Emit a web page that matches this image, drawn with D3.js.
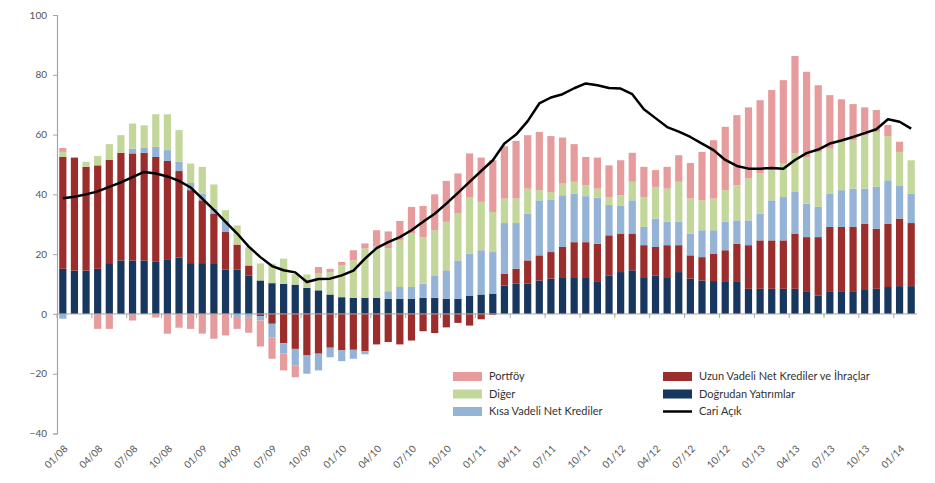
<!DOCTYPE html>
<html>
<head>
<meta charset="utf-8">
<script src="https://cdn.jsdelivr.net/npm/d3@7"></script>
<style>
  html, body { margin: 0; padding: 0; background: #fff; }
  svg { display: block; }
  text { font-family: Lato, "Open Sans", "DejaVu Sans", sans-serif; }
</style>
</head>
<body>
<svg id="chart" width="935" height="483"></svg>
<script>
// ---- DATA ----
const categories = [
  "01/08","02/08","03/08","04/08","05/08","06/08","07/08","08/08","09/08","10/08","11/08","12/08",
  "01/09","02/09","03/09","04/09","05/09","06/09","07/09","08/09","09/09","10/09","11/09","12/09",
  "01/10","02/10","03/10","04/10","05/10","06/10","07/10","08/10","09/10","10/10","11/10","12/10",
  "01/11","02/11","03/11","04/11","05/11","06/11","07/11","08/11","09/11","10/11","11/11","12/11",
  "01/12","02/12","03/12","04/12","05/12","06/12","07/12","08/12","09/12","10/12","11/12","12/12",
  "01/13","02/13","03/13","04/13","05/13","06/13","07/13","08/13","09/13","10/13","11/13","12/13",
  "01/14","02/14"
];
const tickLabels = ["01/08","04/08","07/08","10/08","01/09","04/09","07/09","10/09","01/10","04/10",
  "07/10","10/10","01/11","04/11","07/11","10/11","01/12","04/12","07/12","10/12","01/13","04/13",
  "07/13","10/13","01/14"];
const yTicks = [-40, -20, 0, 20, 40, 60, 80, 100];

// Doğrudan Yatırımlar
const dogrudan = [15.1,14.5,14.5,15.1,17.0,17.9,17.9,17.9,17.6,18.3,18.8,17.0,
  17.0,16.7,14.8,14.8,12.9,11.2,10.3,10.1,9.8,8.7,7.9,6.5,
  5.6,5.4,5.4,5.4,5.1,5.1,5.1,5.4,5.4,5.1,5.1,6.0,
  6.5,6.8,9.5,10.1,10.1,11.2,11.8,12.3,12.3,12.3,10.7,12.9,
  14.0,14.6,12.3,12.9,12.3,14.0,11.8,11.2,11.0,10.7,10.7,8.4,
  8.4,8.4,8.4,8.4,7.6,6.2,7.6,7.6,7.6,8.0,8.4,9.0,
  9.3,9.3];
// Uzun Vadeli Net Krediler ve İhraçlar
const uzunVadeli = [37.4,37.8,34.7,34.6,34.6,36.0,35.8,36.0,34.9,32.9,29.0,24.4,
  21.0,16.9,12.6,8.4,3.3,-0.7,-3.3,-9.8,-11.7,-13.9,-13.3,-11.3,
  -12.2,-12.0,-12.5,-10.2,-9.4,-10.2,-8.9,-5.8,-6.4,-4.5,-3.0,-3.9,
  -1.8,-0.3,4.0,5.0,7.8,8.4,8.9,10.1,11.7,11.7,12.8,13.4,
  12.9,12.3,10.7,9.5,10.7,9.0,7.8,7.8,9.2,10.6,12.8,14.6,
  16.2,16.2,16.2,18.5,18.1,19.5,21.5,21.5,21.5,22.2,20.1,21.2,
  22.6,21.1];
// Kısa Vadeli Net Krediler
const kisaVadeli = [-1.6,0,0,0,0,0,1.6,1.6,3.4,3.6,3.1,2.4,
  2.3,1.6,3.9,-1.0,-1.3,-1.5,-4.5,-3.5,-5.6,-6.1,-5.6,-3.2,
  -3.6,-3.0,-1.0,0,2.5,3.9,3.9,4.7,7.5,9.5,12.8,14.2,
  14.8,13.9,16.9,15.3,15.7,18.4,17.6,17.3,16.3,15.4,15.4,10.2,
  9.4,11.1,6.1,9.5,7.8,7.8,7.3,9.0,7.8,9.5,7.8,8.3,
  9.0,13.4,14.5,13.9,11.2,10.1,11.2,12.3,12.8,11.7,14.0,14.5,
  11.1,9.9];
// Diğer
const diger = [1.7,0,1.7,3.1,5.2,5.9,8.4,7.6,10.9,12.0,10.6,6.5,
  8.9,8.1,3.4,6.4,6.1,5.7,6.5,8.4,3.5,4.5,5.6,7.5,
  10.6,12.5,16.5,17.1,14.4,15.6,17.9,15.6,15.1,16.2,15.7,18.9,
  16.2,13.4,8.2,8.2,8.3,3.4,2.5,3.9,3.9,3.6,3.0,2.5,
  3.4,6.2,10.0,10.6,11.1,13.4,11.7,10.0,10.6,10.6,11.7,14.0,
  13.4,10.1,11.2,12.9,15.6,18.4,15.0,16.7,16.2,17.9,18.4,14.8,
  11.2,11.1];
// Portföy
const portfoy = [1.3,0,0,-5.0,-5.0,0,-2.2,0,-1.2,-6.6,-4.6,-5.0,
  -6.6,-8.3,-7.2,-4.0,-5.0,-8.7,-7.2,-5.6,-3.9,0,2.2,1.1,
  1.2,3.4,1.7,5.5,5.6,6.5,8.9,10.4,12.0,13.7,13.4,14.6,
  14.8,17.3,17.5,19.3,17.9,19.5,18.7,15.4,12.6,9.5,10.4,10.7,
  11.7,9.7,10.1,5.6,7.3,8.9,11.9,16.2,19.5,21.2,23.5,23.8,
  24.5,26.8,27.9,32.6,28.5,22.3,17.9,13.7,12.1,9.3,7.3,3.7,
  3.4,0];
// Cari Açık
const cariAcik = [38.7,39.2,40.0,41.0,42.5,44.0,45.8,47.5,47.0,46.0,44.5,42.3,
  38.6,34.8,30.8,26.9,22.5,19.0,16.0,14.6,13.9,10.7,11.7,11.8,
  12.9,14.5,18.5,22.0,24.0,25.7,28.0,30.8,33.5,36.9,40.5,44.2,
  47.8,51.4,57.0,60.0,64.5,70.4,72.4,73.5,75.5,77.1,76.5,75.6,
  75.4,73.5,68.5,65.5,62.5,61.0,59.2,57.0,54.8,51.5,49.5,48.6,
  48.6,48.8,48.6,51.5,53.8,55.0,57.0,58.0,59.2,60.5,61.8,65.1,
  64.3,62.0];

const seriesNames = ["Doğrudan Yatırımlar", "Uzun Vadeli Net Krediler ve İhraçlar",
  "Kısa Vadeli Net Krediler", "Diğer", "Portföy"];
const seriesValues = [dogrudan, uzunVadeli, kisaVadeli, diger, portfoy];
const seriesColors = ["#17375E", "#9B2E2C", "#95B3D7", "#C4D79B", "#E69C9C"];
const lineName = "Cari Açık";

// ---- CHART ----
const svg = d3.select("#chart");
const x = d3.scaleBand().domain(categories).range([57, 917]).paddingInner(0.38).paddingOuter(0.19);
const y = d3.scaleLinear().domain([-40, 100]).range([433.5, 15]);

const table = categories.map((c, i) => {
  const row = { cat: c };
  seriesNames.forEach((s, k) => row[s] = seriesValues[k][i]);
  return row;
});
const stack = d3.stack().keys(seriesNames).offset(d3.stackOffsetDiverging);
const stacked = stack(table);

svg.append("g").selectAll("g").data(stacked).join("g")
  .attr("fill", (d, k) => seriesColors[k])
  .selectAll("rect").data(d => d).join("rect")
  .attr("x", d => x(d.data.cat))
  .attr("width", x.bandwidth())
  .attr("y", d => y(Math.max(d[0], d[1])))
  .attr("height", d => Math.abs(y(d[0]) - y(d[1])));

// Y axis
const yAxis = svg.append("g").attr("transform", "translate(57,0)")
  .call(d3.axisLeft(y).tickValues(yTicks).tickSize(4).tickPadding(6).tickFormat(d3.format("d")));
yAxis.select(".domain").attr("stroke", "#a6a6a6").attr("stroke-width", 1.2);
yAxis.selectAll(".tick line").attr("stroke", "#a6a6a6");
yAxis.selectAll(".tick text").attr("fill", "#555").style("font-size", "10px")
  .style("font-family", "Lato, 'Open Sans', sans-serif");

// X axis (at zero)
const step = x.step();
const gap = step - x.bandwidth();
const xa = svg.append("g");
xa.append("line").attr("x1", 57).attr("x2", 917).attr("y1", y(0)).attr("y2", y(0))
  .attr("stroke", "#a6a6a6").attr("stroke-width", 1);
categories.forEach((c, i) => {
  if (i % 3 === 0) {
    const bx = x(c) - gap / 2;
    xa.append("line").attr("x1", bx).attr("x2", bx).attr("y1", y(0)).attr("y2", y(0) + 4)
      .attr("stroke", "#a6a6a6");
  }
});
xa.selectAll("text.xl").data(tickLabels).join("text").attr("class", "xl")
  .attr("transform", d => `translate(${x(d) + x.bandwidth() / 2 + 3},447) rotate(-45)`)
  .attr("text-anchor", "end").attr("dy", "0.35em")
  .attr("fill", "#555").style("font-size", "10px").text(d => d);

// Line
const line = d3.line().x((d, i) => x(categories[i]) + x.bandwidth() / 2).y(d => y(d));
svg.append("path").datum(cariAcik).attr("d", line)
  .attr("fill", "none").attr("stroke", "#000").attr("stroke-width", 2.5).attr("stroke-linejoin", "round");

// Legend
const legendItems = [
  { name: "Portföy", color: seriesColors[4], col: 0, row: 0 },
  { name: "Diğer", color: seriesColors[3], col: 0, row: 1 },
  { name: "Kısa Vadeli Net Krediler", color: seriesColors[2], col: 0, row: 2 },
  { name: "Uzun Vadeli Net Krediler ve İhraçlar", color: seriesColors[1], col: 1, row: 0 },
  { name: "Doğrudan Yatırımlar", color: seriesColors[0], col: 1, row: 1 },
  { name: lineName, color: "#000", col: 1, row: 2, line: true }
];
const colX = [453, 663];
const rowY = [376.5, 394, 411.5];
const lg = svg.append("g");
legendItems.forEach(it => {
  const gx = colX[it.col], gy = rowY[it.row];
  if (it.line) {
    lg.append("line").attr("x1", gx).attr("x2", gx + 29).attr("y1", gy).attr("y2", gy)
      .attr("stroke", it.color).attr("stroke-width", 2.5);
  } else {
    lg.append("rect").attr("x", gx).attr("y", gy - 4.5).attr("width", 29).attr("height", 9).attr("fill", it.color);
  }
  lg.append("text").attr("x", gx + 36).attr("y", gy).attr("dy", "0.35em")
    .attr("fill", "#333").style("font-size", "11px").text(it.name);
});
</script>
</body>
</html>
